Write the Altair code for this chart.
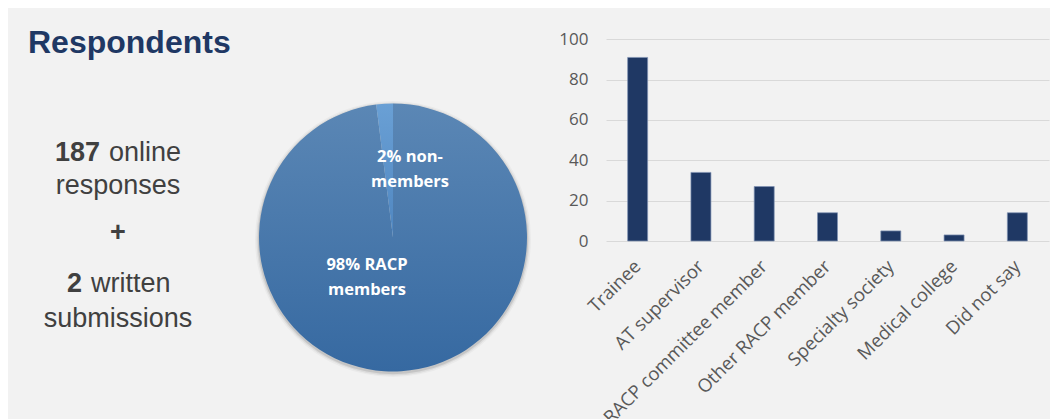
import altair as alt
import pandas as pd

# ---------------- data ----------------
categories = ["Trainee", "AT supervisor", "RACP committee member", "Other RACP member",
              "Specialty society", "Medical college", "Did not say"]
counts = [91, 34, 27, 14, 5, 3, 14]
y_ticks = [0, 20, 40, 60, 80, 100]

pie_groups = ["RACP members", "non-members"]
pie_share = [98, 2]
pie_order = [0, 1]
pie_label_members = ["98% RACP", "members"]
pie_label_non = ["2% non-", "members"]

title_text = "Respondents"
online_count = "187"
online_words = ["online", "responses"]
plus_text = "+"
written_count = "2"
written_words = ["written", "submissions"]

# ---------------- styles ----------------
BG = "#f2f2f2"
TXT = "#404040"
NAVY = "#1f3864"
AX = "#595959"
GRID = "#d9d9d9"

one = pd.DataFrame({"k": [0]})


def txt(text, x, y, size, weight="normal", align="center", color=TXT,
        font="Liberation Sans", baseline="alphabetic"):
    return alt.Chart(one).mark_text(
        text=text, fontSize=size, fontWeight=weight, align=align,
        baseline=baseline, font=font, color=color
    ).encode(x=alt.value(x), y=alt.value(y))


# ---------------- panel 1: title + summary ----------------
p1 = alt.layer(
    txt(title_text, 20, 45, 32, "bold", "left", NAVY),
    txt(online_count, 92, 153, 27, "bold", "right"),
    txt(online_words[0], 101, 153, 27, "normal", "left"),
    txt(online_words[1], 110, 186, 27),
    txt(plus_text, 110, 225, 27, "bold", baseline="middle"),
    txt(written_count, 74, 284, 27, "bold", "right"),
    txt(written_words[0], 83, 284, 27, "normal", "left"),
    txt(written_words[1], 110, 319, 27),
).properties(width=240, height=411)

# ---------------- panel 2: pie ----------------
pie_df = pd.DataFrame({"group": pie_groups, "share": pie_share, "order": pie_order})

CX, CY, R = 145, 229.5, 134

grad_main = {"gradient": "linear", "x1": 0, "y1": 0, "x2": 0, "y2": 1,
             "stops": [{"offset": 0, "color": "#5b87b5"},
                       {"offset": 1, "color": "#3669a1"}]}
grad_small = {"gradient": "linear", "x1": 0, "y1": 0, "x2": 0, "y2": 1,
              "stops": [{"offset": 0, "color": "#6aa0d5"},
                        {"offset": 1, "color": "#4f86c0"}]}

shadows = [
    alt.Chart(pie_df).mark_arc(radius=R + rr, color="#000000", opacity=op).encode(
        theta=alt.Theta("sum(share):Q"), x=alt.value(CX), y=alt.value(CY + 1.5))
    for rr, op in [(4, 0.03), (2.5, 0.06), (1.2, 0.10)]
]

pie = alt.Chart(pie_df).mark_arc(radius=R).encode(
    theta=alt.Theta("share:Q", stack=True),
    order=alt.Order("order:Q"),
    fill=alt.condition(alt.datum.group == pie_groups[0],
                       alt.value(grad_main), alt.value(grad_small)),
    x=alt.value(CX), y=alt.value(CY),
)

PF = "Open Sans"
p2 = alt.layer(
    *shadows, pie,
    txt(pie_label_non[0], 162, 149, 16.5, "bold", color="white", font=PF, baseline="middle"),
    txt(pie_label_non[1], 162, 174, 16.5, "bold", color="white", font=PF, baseline="middle"),
    txt(pie_label_members[0], 119, 257, 16.5, "bold", color="white", font=PF, baseline="middle"),
    txt(pie_label_members[1], 119, 282, 16.5, "bold", color="white", font=PF, baseline="middle"),
).properties(width=300, height=411)

# ---------------- panel 3: bars ----------------
bar_df = pd.DataFrame({"cat": categories, "n": counts})

p3 = alt.Chart(bar_df).mark_bar(color=NAVY, stroke="#7f92b3", strokeWidth=0.7).encode(
    x=alt.X("cat:N", sort=categories,
            scale=alt.Scale(paddingInner=0.684, paddingOuter=0.342),
            axis=alt.Axis(title=None, labelAngle=-45, labelAlign="right",
                          labelBaseline="middle", domain=False, ticks=False,
                          labelFont="Open Sans", labelFontSize=18.5, labelColor=AX,
                          labelPadding=22, labelLimit=400, maxExtent=178)),
    y=alt.Y("n:Q", scale=alt.Scale(domain=[0, 115.5], nice=False, zero=True),
            axis=alt.Axis(title=None, values=y_ticks, domain=False, ticks=False,
                          labelFont="Open Sans", labelFontSize=17, labelColor=AX,
                          labelPadding=18, gridColor=GRID, gridWidth=1.2,
                          minExtent=58, maxExtent=58)),
).properties(width=443, height=233)

chart = alt.hconcat(p1, p2, p3, spacing=0).properties(
    background=BG,
    padding={"left": 0, "top": 0, "right": 1, "bottom": 0},
).configure_view(stroke=None).configure_concat(spacing=0)

chart.save("out.html", embed_options={"renderer": "svg", "actions": False})
